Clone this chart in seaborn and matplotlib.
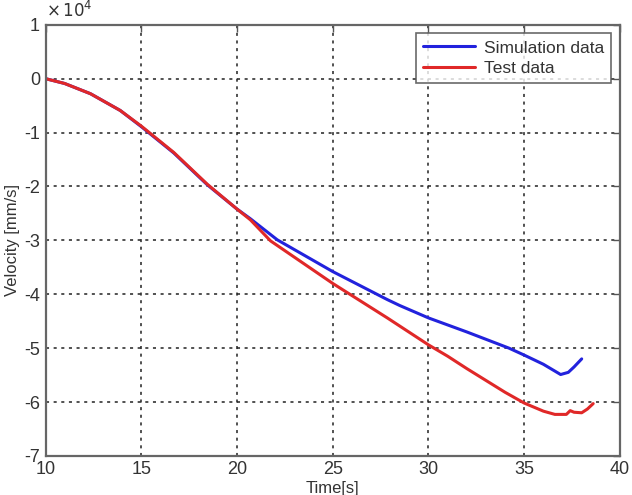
import numpy as np
import pandas as pd
import seaborn as sns
import matplotlib
matplotlib.use('Agg')
import matplotlib.pyplot as plt
from matplotlib.ticker import FuncFormatter

sns.set_style('white')
plt.rcParams['font.family'] = ['Liberation Sans', 'DejaVu Sans']
plt.rcParams['axes.unicode_minus'] = False

# velocity in mm/s
sim_t = [10, 11, 12.35, 13.9, 15, 16.7, 18.45, 20, 20.7, 22.1, 25, 27.85, 28.5, 30, 32,
         34.2, 35, 36, 36.9, 37.3, 37.6, 38.0]
sim_v = [0, -900, -2800, -5900, -8900, -13800, -19700, -24200, -26000, -29900,
         -35800, -41000, -42100, -44400, -47000, -50000, -51300, -53000, -54900,
         -54500, -53500, -52000]
test_t = [10, 11, 12.35, 13.9, 15, 16.7, 18.45, 20, 20.7, 21.75, 25, 27.85, 30, 31,
          32, 33, 34, 35, 36, 36.6, 37.2, 37.4, 37.6, 38.0, 38.3, 38.6]
test_v = [0, -900, -2800, -5900, -8800, -13700, -19600, -24200, -26200, -30100,
          -38000, -44400, -49400, -51500, -53800, -56000, -58200, -60200, -61700,
          -62300, -62300, -61600, -61900, -62000, -61300, -60300]

df = pd.concat([
    pd.DataFrame({'t': sim_t, 'v': sim_v, 'series': 'Simulation data'}),
    pd.DataFrame({'t': test_t, 'v': test_v, 'series': 'Test data'}),
])

fig = plt.figure(figsize=(6.32, 4.95), dpi=100)
ax = fig.add_axes([0.072, 0.079, 0.909, 0.871])
sns.lineplot(data=df, x='t', y='v', hue='series', estimator=None, ax=ax,
             palette={'Simulation data': '#2222dd', 'Test data': '#e02828'},
             linewidth=2.2)

ax.set_xlim(10, 40)
ax.set_ylim(-70000, 10000)
ax.set_xticks(range(10, 41, 5))
ax.set_yticks(range(-70000, 10001, 10000))
ax.yaxis.set_major_formatter(FuncFormatter(lambda v, p: '%d' % round(v / 1e4)))
ax.text(0.0, 1.012, r'$\times\,10^{4}$', transform=ax.transAxes, fontsize=12,
        color='#333333', ha='left', va='bottom')

ax.grid(True, linestyle=(0, (2, 3)), color='#222222', linewidth=1.1)
ax.tick_params(direction='in', top=True, right=True, length=5, width=1,
               colors='#555555', labelcolor='#333333', labelsize=13, pad=4)
for s in ax.spines.values():
    s.set_color('#666666')
    s.set_linewidth(1.6)

ax.set_xlabel('Time[s]', fontsize=12, color='#333333', labelpad=2)
ax.set_ylabel('Velocity [mm/s]', fontsize=12, color='#333333')
ax.yaxis.set_label_coords(-0.045, 0.5)

leg = ax.legend(loc='upper right', fontsize=12.5, frameon=True, fancybox=False,
                edgecolor='#444444', borderaxespad=0.5, handlelength=3.0,
                handletextpad=0.5, labelspacing=0.3)
leg.get_frame().set_linewidth(1.2)
for t in leg.get_texts():
    t.set_color('#333333')

fig.savefig('out.png', dpi=100)
